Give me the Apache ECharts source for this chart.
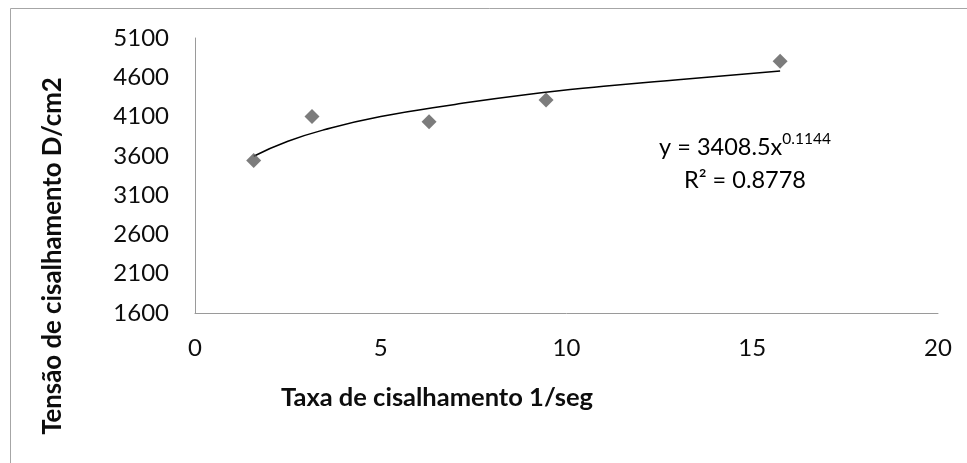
<!DOCTYPE html>
<html>
<head>
<meta charset="utf-8">
<script src="https://cdn.jsdelivr.net/npm/echarts@6/dist/echarts.min.js"></script>
<style>
  html, body { margin: 0; padding: 0; background: #fff; }
  #chart { width: 967px; height: 463px; }
</style>
</head>
<body>
<div id="chart"></div>
<script>
// pontos medidos: taxa de cisalhamento (1/seg) x tensão de cisalhamento (D/cm2)
const taxa = [1.58, 3.15, 6.3, 9.45, 15.75]
const tensao = [3540, 4100, 4035, 4310, 4805]
// linha de tendência (potência)
const trendX = [1.58, 2.5, 3.5, 5, 7, 9, 11, 13, 15.75]
const trendY = [3595, 3785, 3935, 4100, 4255, 4385, 4485, 4570, 4680]
const xTicks = { min: 0, max: 20, interval: 5 }
const yTicks = { min: 1600, max: 5100, interval: 500 }

const FONT = 'Lato'
const TXT = '#0d0d0d'
const AXIS = '#9a9a9a'

const chart = echarts.init(document.getElementById('chart'), null, { renderer: 'canvas' })

chart.setOption({
  backgroundColor: '#fff',
  animation: false,
  grid: { left: 195, right: 29, top: 38, bottom: 150 },
  xAxis: {
    type: 'value', ...xTicks,
    axisLine: { lineStyle: { color: AXIS, width: 1 } },
    axisTick: { show: false },
    splitLine: { show: false },
    axisLabel: { color: TXT, fontFamily: FONT, fontSize: 24, margin: 23, formatter: v => String(v) },
  },
  yAxis: {
    type: 'value', ...yTicks,
    axisLine: { show: true, lineStyle: { color: AXIS, width: 1 } },
    axisTick: { show: false },
    splitLine: { show: false },
    axisLabel: { color: TXT, fontFamily: FONT, fontSize: 24, margin: 26, formatter: v => String(v) },
  },
  series: [
    {
      type: 'line', name: 'tendência',
      data: trendX.map((x, i) => [x, trendY[i]]),
      showSymbol: false, smooth: true,
      lineStyle: { color: '#000', width: 1.5 },
      z: 2,
    },
    {
      type: 'scatter', name: 'medido',
      data: taxa.map((x, i) => [x, tensao[i]]),
      symbol: 'diamond', symbolSize: 15,
      itemStyle: { color: '#5b5b5b' },
      z: 3,
    },
  ],
  graphic: [
    { type: 'rect', silent: true,
      shape: { x: 10.5, y: 8.5, width: 1200, height: 800 },
      style: { fill: 'none', stroke: '#a6a6a6', lineWidth: 1 } },
    { type: 'text', x: 437, y: 398,
      style: { text: 'Taxa de cisalhamento 1/seg', font: `bold 25.5px ${FONT}`, fill: TXT,
        align: 'center', verticalAlign: 'middle' } },
    { type: 'text', x: 53, y: 256, rotation: Math.PI / 2,
      style: { text: 'Tensão de cisalhamento D/cm2', font: `bold 25.8px ${FONT}`, fill: TXT,
        align: 'center', verticalAlign: 'middle' } },
    { type: 'text', x: 745, y: 164,
      style: {
        text: '{a|y = 3408.5x}{s|0.1144}\n{a|R² = 0.8778}',
        align: 'center', verticalAlign: 'middle',
        rich: {
          a: { fontFamily: FONT, fontSize: 23.5, color: TXT, lineHeight: 33 },
          s: { fontFamily: FONT, fontSize: 15.5, color: TXT, lineHeight: 33, verticalAlign: 'top' },
        },
      } },
  ],
})
</script>
</body>
</html>
